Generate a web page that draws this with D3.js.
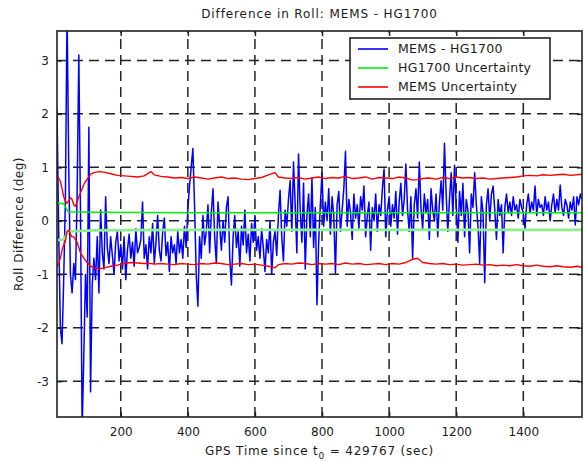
<!DOCTYPE html>
<html>
<head>
<meta charset="utf-8">
<script src="https://cdn.jsdelivr.net/npm/d3@7"></script>
<style>
  body { margin: 0; background: #fff; }
  text { font-family: "DejaVu Sans", sans-serif; fill: #1a1a1a; }
</style>
</head>
<body>
<svg id="chart" width="584" height="461"></svg>
<script>
// tick labels
const xTicks = [200, 400, 600, 800, 1000, 1200, 1400];
const yTicks = [-3, -2, -1, 0, 1, 2, 3];

// MEMS - HG1700 roll difference, one sample every 5 s from t = 10
const blueValues = [
  2.1, -0.2, -2.0, -2.3, -1.1, 0.4, 3.9, 1.0, -1.0, -1.35,
  -0.8, -1.1, 0.5, 3.1, 0.2, -3.9, -2.5, -1.0, -1.8, 1.75,
  -3.2, -1.2, -0.7, -1.1, -0.3, -1.35, 0.2, -0.6, -0.9, 0.45,
  -0.5, -0.8, -0.3, -0.65, -1.0, -0.4, -0.2, -0.75, -0.45, -0.9,
  -0.3, -1.1, -0.55, -0.25, -0.7, -0.4, -0.85, -0.15, -0.6, -0.5,
  -0.35, 0.35, -0.7, -0.45, -0.9, -0.3, -0.6, -0.05, -0.8, -0.4,
  0.1, -0.55, -0.75, -0.2, 0.05, -0.65, -0.4, -0.95, -0.3, -0.6,
  -0.45, -0.8, -0.2, -0.6, -0.35, -0.7, -0.1, -0.5, 0.2, 0.65,
  1.0, 1.35, 0.3, -1.0, -1.6, -0.3, -0.7, 0.1, -0.45, -0.2,
  0.3, -0.6, 0.15, 0.6, -0.3, -0.8, 0.35, -0.1, -0.55, 0.0,
  -0.4, 0.25, 0.45, -0.7, -1.2, -0.3, 0.1, -0.5, -0.2, -0.85,
  -0.1, -0.45, 0.2, -0.6, -0.25, -0.75, -0.05, -0.4, 0.08, -0.55,
  -0.3, -0.7, -0.15, -0.5, -0.95, -0.35, -0.6, 0.0, -1.0, -0.4,
  -0.2, -0.65, 0.1, 0.57, -0.3, -0.75, 0.2, -0.1, 0.4, 0.75,
  -0.2, 1.1, 0.3, -0.6, 1.25, 0.2, -0.4, 0.7, -0.9, 0.1,
  0.5, -0.3, 0.8, -0.5, 0.25, -1.57, -0.4, 0.3, 0.9, -0.1,
  0.35, 0.0, 0.6, -0.25, 0.45, 0.1, -0.98, 0.3, 0.55, -0.2,
  0.2, 0.6, 1.3, -0.1, 0.4, 0.15, -0.35, 0.5, 0.05, 0.3,
  -0.15, 0.45, 0.2, 0.65, -0.3, 0.1, 0.35, -0.55, 0.25, 0.0,
  0.5, -0.2, 0.3, 0.1, 0.6, 0.97, -0.3, 0.2, 0.45, -0.1,
  0.3, 0.05, 0.55, -0.25, 0.35, 0.7, 0.1, 0.4, 1.06, 0.2,
  -0.2, 0.45, -0.7, 0.3, 0.6, 0.05, 1.1, 0.25, -0.15, 0.5,
  0.15, 0.4, -0.35, 0.6, 0.2, 0.0, 0.5, -0.3, 0.35, 0.75,
  0.2, 1.45, 0.5, -0.2, 0.4, 0.9, 0.1, 1.04, 0.3, -0.4,
  0.55, 0.1, 0.7, -0.3, 0.4, 0.2, -0.6, 0.5, 0.25, 0.9,
  0.3, -0.1, -0.8, 0.45, 0.15, -1.16, 0.3, 0.6, 0.0, 0.5,
  0.65, 0.2, -0.35, 0.4, 0.1, 0.3, -0.6, 0.25, 0.5, 0.15,
  0.35, 0.1, 0.45, 0.2, 0.3, 0.05, 0.4, 0.25, 0.15, -0.15,
  0.3, 0.5, 0.15, 0.35, 0.2, 0.65, 0.1, 0.4, 0.25, 0.3,
  0.1, 0.45, 0.2, 0.35, 0.0, 0.3, 0.5, 0.15, 0.4, 0.2,
  0.67, 0.25, 0.1, 0.4, 0.3, 0.05, 0.35, 0.2, 0.45, -0.08,
  0.45, 0.3, 0.5, 0.4
];
const blueTimes = d3.range(10, 10 + 5 * blueValues.length, 5);

// HG1700 uncertainty bounds
const greenTimes = [10, 30, 43, 120, 400, 800, 1200, 1575];
const greenUpper = [0.33, 0.32, 0.17, 0.16, 0.15, 0.15, 0.15, 0.15];
const greenLower = [-0.36, -0.35, -0.2, -0.18, -0.17, -0.17, -0.17, -0.17];

// MEMS uncertainty bounds
const redTimes = [
  10, 15, 20, 25, 30, 35, 40, 45, 50, 55, 60, 65, 70, 75, 80,
  90, 100, 110, 120, 135, 150, 170, 190,
  210, 230, 250, 270, 290, 300,
  320, 340, 360, 380, 400, 420, 440, 460, 480, 500, 520, 540, 560, 580, 600, 620, 640, 660,
  670,
  690, 710, 730, 750, 770, 790, 810, 830, 850, 870, 890, 910, 930, 950, 970, 990, 1010, 1030, 1050, 1070,
  1085,
  1100, 1120, 1140, 1160, 1180, 1200, 1220, 1240, 1260, 1280, 1300, 1320, 1340, 1360, 1380, 1400, 1420, 1440, 1460, 1480, 1500, 1520, 1540, 1560,
  1575
];
const redUpper = [
  0.82, 0.8, 0.74, 0.6, 0.45, 0.36, 0.33, 0.38, 0.43, 0.4, 0.3, 0.27, 0.35, 0.45, 0.52,
  0.68, 0.78, 0.87, 0.9, 0.92, 0.91, 0.88, 0.85,
  0.84, 0.83, 0.82, 0.84, 0.92, 0.86,
  0.83, 0.82, 0.8, 0.81, 0.79, 0.82, 0.8, 0.78, 0.8, 0.82, 0.79, 0.8, 0.78, 0.77, 0.79, 0.81, 0.86, 0.9,
  0.82,
  0.8, 0.79, 0.81, 0.78, 0.8, 0.82, 0.79, 0.81, 0.8, 0.83, 0.79, 0.8, 0.82, 0.78, 0.81, 0.8, 0.79, 0.82, 0.8, 0.76,
  0.77,
  0.79, 0.8, 0.78, 0.81, 0.79, 0.82, 0.8, 0.81, 0.79, 0.8, 0.78, 0.79, 0.8, 0.81, 0.82, 0.84, 0.85, 0.84, 0.86, 0.85, 0.86, 0.87, 0.85, 0.86,
  0.87
];
const redLower = [
  -0.86, -0.8, -0.7, -0.55, -0.45, -0.38, -0.2, -0.17, -0.25, -0.3, -0.3, -0.35, -0.4, -0.5, -0.6,
  -0.7, -0.78, -0.85, -0.88, -0.9, -0.88, -0.85, -0.83,
  -0.8, -0.78, -0.79, -0.8, -0.8, -0.81,
  -0.8, -0.81, -0.82, -0.8, -0.81, -0.82, -0.8, -0.81, -0.79, -0.8, -0.82, -0.81, -0.8, -0.82, -0.81, -0.83, -0.85, -0.88,
  -0.82,
  -0.8, -0.81, -0.79, -0.8, -0.82, -0.8, -0.81, -0.8, -0.82, -0.79, -0.81, -0.8, -0.82, -0.81, -0.8, -0.82, -0.8, -0.81, -0.78, -0.72,
  -0.7,
  -0.78, -0.8, -0.81, -0.8, -0.82, -0.81, -0.83, -0.82, -0.81, -0.83, -0.82, -0.84, -0.83, -0.84, -0.82, -0.84, -0.85, -0.83, -0.85, -0.86, -0.84, -0.86, -0.87, -0.85,
  -0.87
];

const legendLabels = ['MEMS - HG1700', 'HG1700 Uncertainty', 'MEMS Uncertainty'];
const legendColors = ['#0000ff', '#00ee00', '#ff0000'];

const plotLeft = 57, plotRight = 582, plotTop = 31, plotBottom = 417;

const svg = d3.select('#chart');
const x = d3.scaleLinear().domain([10, 1575]).range([plotLeft, plotRight]);
const y = d3.scaleLinear().domain([-3.67, 3.55]).range([plotBottom, plotTop]);

svg.append('defs').append('clipPath').attr('id', 'plot-clip')
  .append('rect')
  .attr('x', plotLeft).attr('y', plotTop)
  .attr('width', plotRight - plotLeft).attr('height', plotBottom - plotTop);

// dashed grid
const grid = svg.append('g')
  .attr('stroke', '#222')
  .attr('stroke-width', 1.5)
  .attr('stroke-dasharray', '10,6');

grid.selectAll('line.gx')
  .data(xTicks)
  .enter().append('line')
  .attr('class', 'gx')
  .attr('x1', d => x(d)).attr('x2', d => x(d))
  .attr('y1', plotBottom).attr('y2', plotTop);

grid.selectAll('line.gy')
  .data(yTicks)
  .enter().append('line')
  .attr('class', 'gy')
  .attr('y1', d => y(d)).attr('y2', d => y(d))
  .attr('x1', plotLeft).attr('x2', plotRight);

// data lines
const plot = svg.append('g').attr('clip-path', 'url(#plot-clip)');

const line = d3.line()
  .x(d => x(d[0]))
  .y(d => y(d[1]));

plot.append('path')
  .datum(d3.zip(blueTimes, blueValues))
  .attr('fill', 'none')
  .attr('stroke', '#0000ff')
  .attr('stroke-width', 1.5)
  .attr('stroke-linejoin', 'round')
  .attr('d', line);

plot.append('path')
  .datum(d3.zip(greenTimes, greenLower))
  .attr('fill', 'none')
  .attr('stroke', '#8cef8c')
  .attr('stroke-width', 2.6)
  .attr('d', line);

plot.append('path')
  .datum(d3.zip(greenTimes, greenUpper))
  .attr('fill', 'none')
  .attr('stroke', '#00ee00')
  .attr('stroke-width', 1.6)
  .attr('d', line);

[redUpper, redLower].forEach(values => {
  plot.append('path')
    .datum(d3.zip(redTimes, values))
    .attr('fill', 'none')
    .attr('stroke', '#ff0000')
    .attr('stroke-width', 1.4)
    .attr('stroke-linejoin', 'round')
    .attr('d', line);
});

// axes, ticks pointing inward; plain hyphen minus like the original
const plain = d => String(d);

svg.append('g')
  .attr('transform', `translate(0,${plotBottom})`)
  .call(d3.axisBottom(x).tickValues(xTicks).tickFormat(plain)
    .tickSizeInner(-5).tickSizeOuter(0).tickPadding(10));

svg.append('g')
  .attr('transform', `translate(${plotLeft},0)`)
  .call(d3.axisLeft(y).tickValues(yTicks).tickFormat(plain)
    .tickSizeInner(-5).tickSizeOuter(0).tickPadding(8));

svg.append('g')
  .attr('transform', `translate(0,${plotTop})`)
  .call(d3.axisTop(x).tickValues(xTicks).tickSizeInner(-5).tickSizeOuter(0).tickFormat(''));

svg.append('g')
  .attr('transform', `translate(${plotRight},0)`)
  .call(d3.axisRight(y).tickValues(yTicks).tickSizeInner(-5).tickSizeOuter(0).tickFormat(''));

svg.selectAll('.domain').remove();
svg.selectAll('.tick line').attr('stroke', '#222').attr('stroke-width', 1.5);
svg.selectAll('.tick text')
  .attr('font-family', 'DejaVu Sans, sans-serif')
  .attr('font-size', 12)
  .attr('fill', '#1a1a1a');

svg.append('rect')
  .attr('x', plotLeft).attr('y', plotTop)
  .attr('width', plotRight - plotLeft).attr('height', plotBottom - plotTop)
  .attr('fill', 'none')
  .attr('stroke', '#222')
  .attr('stroke-width', 1.6);

// title and labels
svg.append('text')
  .attr('x', (plotLeft + plotRight) / 2).attr('y', 18)
  .attr('text-anchor', 'middle')
  .attr('font-size', 12)
  .attr('letter-spacing', 0.9)
  .text('Difference in Roll: MEMS - HG1700');

const xLabel = svg.append('text')
  .attr('x', (plotLeft + plotRight) / 2).attr('y', 455)
  .attr('text-anchor', 'middle')
  .attr('font-size', 12)
  .attr('letter-spacing', 0.8);
xLabel.append('tspan').text('GPS Time since t');
xLabel.append('tspan').attr('font-size', 9).attr('dy', 4).text('0');
xLabel.append('tspan').attr('dy', -4).text(' = 429767 (sec)');

svg.append('text')
  .attr('transform', `translate(23,${(plotTop + plotBottom) / 2}) rotate(-90)`)
  .attr('text-anchor', 'middle')
  .attr('font-size', 12)
  .attr('letter-spacing', 0.5)
  .text('Roll Difference (deg)');

// legend
const legend = svg.append('g');
legend.append('rect')
  .attr('x', 350).attr('y', 38)
  .attr('width', 200).attr('height', 61)
  .attr('fill', '#fff')
  .attr('stroke', '#222')
  .attr('stroke-width', 1.6);

const items = legend.selectAll('g.item')
  .data(legendLabels)
  .enter().append('g')
  .attr('class', 'item')
  .attr('transform', (d, i) => `translate(0,${49 + i * 19})`);

items.append('line')
  .attr('x1', 358).attr('x2', 388)
  .attr('stroke', (d, i) => legendColors[i])
  .attr('stroke-width', 1.6);

items.append('text')
  .attr('x', 398)
  .attr('dy', '0.35em')
  .attr('font-size', 12.5)
  .attr('letter-spacing', 0.3)
  .text(d => d);
</script>
</body>
</html>
